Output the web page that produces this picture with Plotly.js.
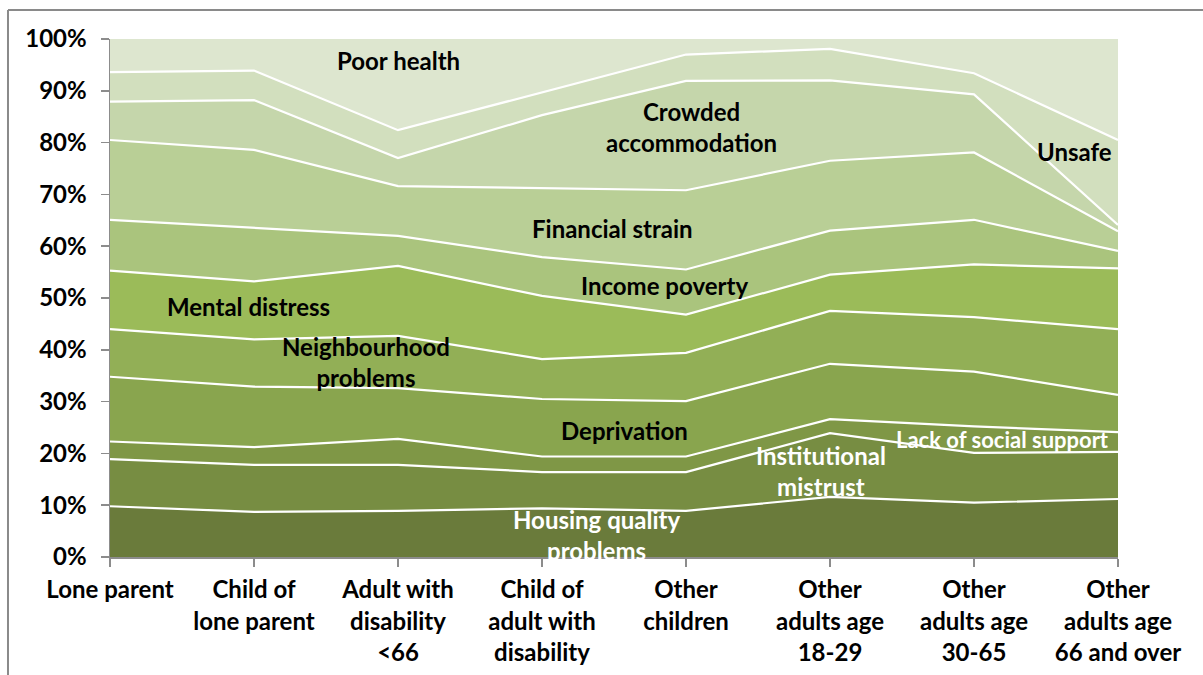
<!DOCTYPE html>
<html>
<head>
<meta charset="utf-8">
<script src="https://cdn.plot.ly/plotly-3.0.1.min.js"></script>
<style>
html,body{margin:0;padding:0;background:#fff;}
#chart{width:1203px;height:675px;}
</style>
</head>
<body>
<div id="chart"></div>
<script>
// Categories (x axis)
const categories = [
  "Lone parent",
  "Child of<br>lone parent",
  "Adult with<br>disability<br><66",
  "Child of<br>adult with<br>disability",
  "Other<br>children",
  "Other<br>adults age<br>18-29",
  "Other<br>adults age<br>30-65",
  "Other<br>adults age<br>66 and over"
];

// Y tick values and labels
const yTickValues = [0, 10, 20, 30, 40, 50, 60, 70, 80, 90, 100];
const yTickLabels = ["0%", "10%", "20%", "30%", "40%", "50%", "60%", "70%", "80%", "90%", "100%"];

// Series (percentage share of each problem, bottom to top)
const housingQuality        = [9.8, 8.7, 8.9, 9.4, 8.9, 11.6, 10.5, 11.2];
const institutionalMistrust = [9.1, 9.1, 8.9, 7.0, 7.5, 12.3, 9.6, 9.1];
const lackSocialSupport     = [3.4, 3.4, 5.0, 3.0, 3.0, 2.7, 5.1, 3.8];
const deprivation           = [12.5, 11.7, 9.8, 11.1, 10.7, 10.7, 10.6, 7.2];
const neighbourhood         = [9.2, 9.1, 10.1, 7.7, 9.3, 10.2, 10.5, 12.7];
const mentalDistress        = [11.3, 11.2, 13.5, 12.2, 7.4, 7.0, 10.2, 11.7];
const incomePoverty         = [9.8, 10.3, 5.8, 7.5, 8.7, 8.5, 8.6, 3.4];
const financialStrain       = [15.4, 15.1, 9.6, 13.3, 15.3, 13.5, 13.0, 3.8];
const crowded               = [7.4, 9.6, 5.4, 14.1, 21.1, 15.5, 11.2, 1.2];
const unsafe                = [5.7, 5.7, 5.4, 4.4, 5.1, 6.1, 4.1, 16.4];
const poorHealth            = [6.4, 6.1, 17.6, 10.3, 3.0, 1.9, 6.6, 19.5];

const seriesNames = ["Housing quality problems","Institutional mistrust","Lack of social support",
  "Deprivation","Neighbourhood problems","Mental distress","Income poverty","Financial strain",
  "Crowded accommodation","Unsafe","Poor health"];
const seriesValues = [housingQuality, institutionalMistrust, lackSocialSupport, deprivation,
  neighbourhood, mentalDistress, incomePoverty, financialStrain, crowded, unsafe, poorHealth];
const seriesColors = ["#6a7b3b","#778d42","#7f9746","#89a54e","#92af56","#9bbb59",
  "#aac47d","#b9cf96","#c5d6ab","#d2dfbe","#dde6cf"];

const xIdx = categories.map((c, i) => i);
const FONT = "Lato, 'Open Sans', sans-serif";

const traces = seriesValues.map((vals, k) => ({
  type: "scatter",
  mode: "lines",
  name: seriesNames[k],
  x: xIdx,
  y: vals,
  stackgroup: "one",
  groupnorm: k === 0 ? "percent" : undefined,
  fillcolor: seriesColors[k],
  line: {color: "#ffffff", width: k === seriesValues.length - 1 ? 0 : 2.2, shape: "linear"},
  hoverinfo: "name+y"
}));

// In-chart labels: [text, x index, y %, colour]
const labels = [
  ["Poor health", 2.0, 95.9, "#000"],
  ["Crowded<br>accommodation", 4.04, 83.0, "#000"],
  ["Unsafe", 6.70, 78.2, "#000"],
  ["Financial strain", 3.49, 63.5, "#000"],
  ["Income poverty", 3.85, 52.5, "#000"],
  ["Mental distress", 0.96, 48.3, "#000"],
  ["Neighbourhood<br>problems", 1.78, 37.6, "#000"],
  ["Deprivation", 3.57, 24.5, "#000"],
  ["Lack of social support", 6.20, 22.6, "#fff"],
  ["Institutional<br>mistrust", 4.94, 16.6, "#fff"],
  ["Housing quality<br>problems", 3.38, 4.2, "#fff"]
];

const annotations = labels.map(l => ({
  text: l[0], x: l[1], y: l[2], xref: "x", yref: "y",
  showarrow: false, align: "center",
  font: {family: FONT, size: l[0].startsWith("Lack") ? 22 : 24, color: l[3], weight: 700}
}));

const layout = {
  width: 1203, height: 675,
  margin: {l: 110, r: 85, t: 39, b: 118},
  paper_bgcolor: "#ffffff",
  plot_bgcolor: "#ffffff",
  showlegend: false,
  font: {family: FONT, size: 24, color: "#000"},
  xaxis: {
    range: [0, 7],
    tickmode: "array",
    tickvals: xIdx,
    ticktext: categories,
    showgrid: false,
    zeroline: false,
    showline: true, linecolor: "#8c8c8c", linewidth: 1.5,
    ticks: "outside", ticklen: 8, tickcolor: "#8c8c8c", tickwidth: 1.5,
    ticklabelstandoff: 3,
    tickangle: 0,
    tickfont: {family: FONT, size: 24, color: "#000", weight: 700}
  },
  yaxis: {
    range: [0, 100],
    tickmode: "array",
    tickvals: yTickValues,
    ticktext: yTickLabels,
    showgrid: false,
    zeroline: false,
    showline: true, linecolor: "#8c8c8c", linewidth: 1.5,
    ticks: "outside", ticklen: 8, tickcolor: "#8c8c8c", tickwidth: 1.5,
    ticklabelstandoff: 9,
    tickfont: {family: FONT, size: 24, color: "#000", weight: 700}
  },
  annotations: annotations,
  shapes: [
    {type: "line", xref: "paper", yref: "paper", x0: -0.1012, x1: -0.1012, y0: -0.3, y1: 1.056,
     line: {color: "#8a8a8a", width: 2}},
    {type: "line", xref: "paper", yref: "paper", x0: -0.1012, x1: 1.2, y0: 1.056, y1: 1.056,
     line: {color: "#8a8a8a", width: 2}}
  ]
};

Plotly.newPlot("chart", traces, layout, {displayModeBar: false, staticPlot: true});
</script>
</body>
</html>
